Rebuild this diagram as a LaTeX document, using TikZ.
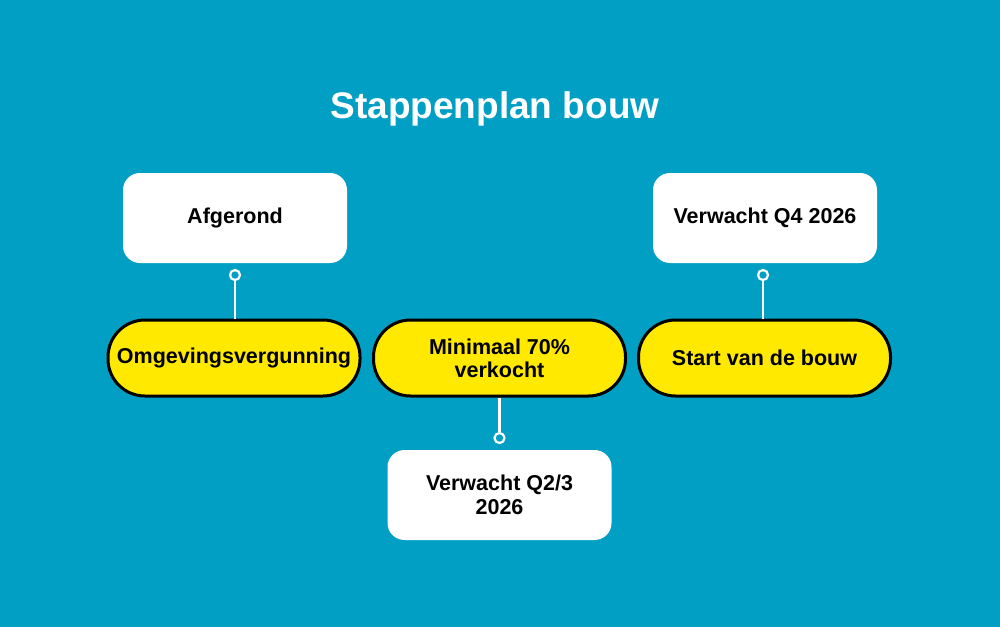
\documentclass[tikz,border=0pt]{standalone}
\usepackage{fontspec}
\setmainfont{Liberation Sans}
\definecolor{bg}{HTML}{019FC4}
\definecolor{pill}{HTML}{FFE900}
\begin{document}
\begin{tikzpicture}[x=1pt,y=-1pt,
  whitebox/.style={fill=white,rounded corners=17pt,minimum width=224pt,minimum height=90pt,align=center,font=\bfseries\fontsize{21.5}{23.5}\selectfont,inner sep=0pt},
  pillbox/.style={fill=pill,draw=black,line width=3pt,rounded corners=37pt,minimum width=252pt,minimum height=76pt,align=center,font=\bfseries\fontsize{21.5}{23}\selectfont,inner sep=0pt},
  conn/.style={draw=white,line width=2.2pt},
  dot/.style={circle,draw=white,fill=bg,line width=2.2pt,minimum size=10pt,inner sep=0pt}]
\fill[bg] (0,0) rectangle (1000,627);
\useasboundingbox (0,0) rectangle (1000,627);
\node[text=white,font=\bfseries\fontsize{37}{40}\selectfont] (title) at (495,109) {Stappenplan bouw};
\node[whitebox] (w1) at (235,218) {Afgerond};
\node[whitebox] (w3) at (765,218) {Verwacht Q4 2026};
\node[whitebox] (w2) at (499.5,495) {Verwacht Q2/3\\2026};
\node[pillbox] (p1) at (234,358) {Omgevingsvergunning};
\node[pillbox] (p2) at (499.5,358) {Minimaal 70\%\\verkocht};
\node[pillbox] (p3) at (764.5,358) {Start van de bouw};
\node[dot] (d1) at (235,275) {};
\node[dot] (d3) at (763,275) {};
\node[dot] (d2) at (499.5,438) {};
\draw[conn] (d1.south) -- (p1.north -| d1.south);
\draw[conn] (d3.south) -- (p3.north -| d3.south);
\draw[conn] (p2.south) -- (d2.north);
\end{tikzpicture}
\end{document}
